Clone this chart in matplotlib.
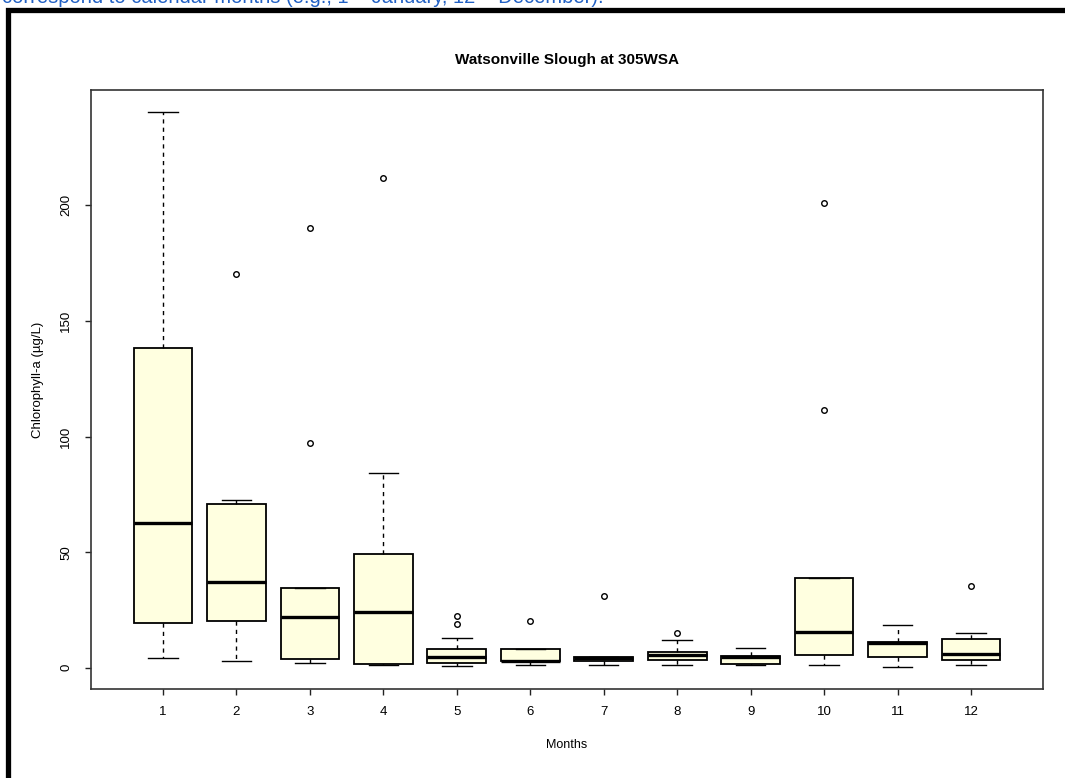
import matplotlib
matplotlib.use("Agg")
import matplotlib.pyplot as plt
from matplotlib.patches import Rectangle

plt.rcParams["font.family"] = ["Liberation Sans", "DejaVu Sans"]

# Monthly chlorophyll-a summary statistics (µg/L)
months = [1, 2, 3, 4, 5, 6, 7, 8, 9, 10, 11, 12]
q1 = [19.2, 20.4, 3.9, 1.6, 2.2, 2.9, 2.7, 3.3, 1.5, 5.6, 4.5, 3.3]
medians = [62.4, 37.3, 22.1, 24.3, 4.8, 3.0, 4.3, 5.5, 4.8, 15.3, 10.6, 5.9]
q3 = [138.4, 70.7, 34.7, 49.4, 8.1, 7.9, 4.5, 6.9, 5.2, 38.9, 11.0, 12.6]
whisker_low = [4.0, 2.7, 2.2, 1.0, 0.6, 1.1, 1.1, 1.0, 1.0, 1.1, 0.4, 1.1]
whisker_high = [240.3, 72.4, 34.7, 84.1, 12.7, 7.9, 4.5, 12.0, 8.5, 38.9, 18.5, 15.0]
outliers = [[], [170.4], [190.3, 97.1], [212.0], [22.4, 18.9], [20.4],
            [31.2], [15.2], [], [201.1, 111.4], [], [35.2]]
y_ticks = [0, 50, 100, 150, 200]

W, H = 1065, 778
fig = plt.figure(figsize=(W / 100, H / 100), dpi=100)
fig.patch.set_facecolor("white")

# Caption line from the surrounding page, clipped at the top edge
fig.text(2 / W, 1 - 3 / H,
         "correspond to calendar months (e.g., 1 = January, 12 = December).",
         color="#2160c4", fontsize=14.5, ha="left", va="baseline")

# Heavy frame around the plot region
fig.patches.append(Rectangle((7.5 / W, -0.1), 1.2, 1 - 10 / H + 0.1,
                             transform=fig.transFigure, fill=False,
                             edgecolor="black", linewidth=3.8, zorder=0))

ax = fig.add_axes([91 / W, 1 - 689 / H, (1043 - 91) / W, (689 - 90) / H])

stats = []
for i in range(len(months)):
    stats.append({
        "med": medians[i], "q1": q1[i], "q3": q3[i],
        "whislo": whisker_low[i], "whishi": whisker_high[i],
        "fliers": outliers[i], "label": str(months[i]),
    })

ax.bxp(stats, positions=months, widths=0.8, patch_artist=True,
       boxprops=dict(facecolor="#ffffe0", edgecolor="black", linewidth=1.3),
       medianprops=dict(color="black", linewidth=2.4, solid_capstyle="butt"),
       whiskerprops=dict(color="black", linewidth=1.0, linestyle=(0, (3, 3))),
       capprops=dict(color="black", linewidth=1.0),
       capwidths=0.4,
       flierprops=dict(marker="o", markersize=4, markerfacecolor="none",
                       markeredgecolor="black", markeredgewidth=1.0,
                       linestyle="none"))

# R-style axis extents: 4% padding around the data range
all_vals = whisker_low + whisker_high + [v for o in outliers for v in o]
lo, hi = min(all_vals), max(all_vals)
pad = 0.04 * (hi - lo)
ax.set_ylim(lo - pad, hi + pad)
xpad = 0.04 * len(months)
ax.set_xlim(0.5 - xpad, len(months) + 0.5 + xpad)

ax.set_yticks(y_ticks)
ax.set_yticklabels([str(t) for t in y_ticks], rotation=90, va="center")
ax.set_xticks(months)
ax.set_xticklabels([str(m) for m in months])
ax.tick_params(axis="both", direction="out", length=4.5, width=1.0,
               labelsize=9.5, color="#222222")
ax.tick_params(axis="x", pad=8)
ax.tick_params(axis="y", pad=9)
for s in ax.spines.values():
    s.set_linewidth(1.2)
    s.set_color("#333333")

fig.text(567 / W, 1 - 60 / H, "Watsonville Slough at 305WSA",
         fontsize=11, fontweight="bold", ha="center", va="center")
fig.text(567 / W, 1 - 745 / H, "Months", fontsize=9,
         ha="center", va="center")
fig.text(38 / W, 1 - 380 / H, "Chlorophyll-a (µg/L)", fontsize=9.5,
         rotation=90, ha="center", va="center")

fig.savefig("out.png", dpi=100)
